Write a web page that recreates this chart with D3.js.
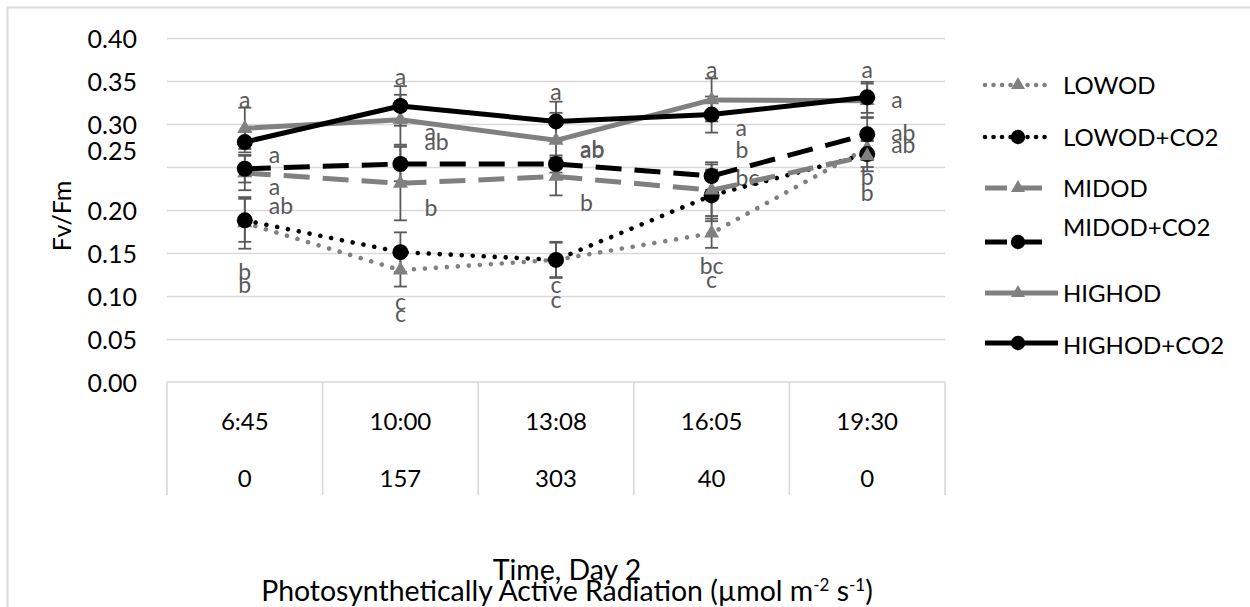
<!DOCTYPE html>
<html><head><meta charset="utf-8">
<script src="https://cdn.jsdelivr.net/npm/d3@7"></script>
<style>
body{margin:0;background:#fff}
svg{display:block}
text{font-family:Lato,"Open Sans",sans-serif}
</style>
</head><body>
<svg id="c" width="1250" height="607"></svg>
<script>
// ---------- data ----------
const categories = ["6:45","10:00","13:08","16:05","19:30"];
const parLabels  = ["0","157","303","40","0"];
const seriesNames = ["LOWOD","LOWOD+CO2","MIDOD","MIDOD+CO2","HIGHOD","HIGHOD+CO2"];
const lowod      = [0.185,0.130,0.142,0.173,0.272];
const lowodCO2   = [0.188,0.151,0.142,0.217,0.265];
const midod      = [0.243,0.231,0.239,0.223,0.263];
const midodCO2   = [0.248,0.2535,0.2535,0.2395,0.288];
const highod     = [0.295,0.305,0.281,0.328,0.327];
const highodCO2  = [0.279,0.321,0.303,0.311,0.331];
const lowodErr     = [0.030,0.019,0.020,0.017,0.014];
const lowodCO2Err  = [0.025,0.023,0.021,0.030,0.015];
const midodErr     = [0.020,0.043,0.022,0.030,0.018];
const midodCO2Err  = [0.016,0.020,0.010,0.016,0.020];
const highodErr    = [0.024,0.029,0.032,0.025,0.020];
const highodCO2Err = [0.012,0.023,0.023,0.021,0.018];
const yTicks = [0,0.05,0.10,0.15,0.20,0.25,0.30,0.35,0.40];
// significance letters
const letterCats  = ["6:45","6:45","6:45","6:45","6:45","6:45",
                     "10:00","10:00","10:00","10:00","10:00","10:00",
                     "13:08","13:08","13:08","13:08","13:08","13:08",
                     "16:05","16:05","16:05","16:05","16:05","16:05",
                     "19:30","19:30","19:30","19:30","19:30","19:30"];
const letterVals  = [0.328,0.264,0.2267,0.2047,0.128,0.113,
                     0.3547,0.2907,0.279,0.2023,0.093,0.079,
                     0.3372,0.2698,0.2710,0.208,0.1128,0.0953,
                     0.3628,0.2953,0.2698,0.2372,0.1349,0.1186,
                     0.3628,0.328,0.2895,0.2756,0.2384,0.2198];
const letterTexts = ["a","a","a","ab","b","b",
                     "a","a","ab","b","c","c",
                     "a","ab","ab","b","c","c",
                     "a","a","b","bc","bc","c",
                     "a","a","ab","ab","b","b"];
const letterSide  = [0,1,1,1,0,0, 0,1,1,1,0,0, 0,1,1,1,0,0, 0,1,1,1,0,0, 0,1,1,1,0,0];

// ---------- styles ----------
const GRAY = "#808080", BLACK = "#000000", EBAR = "#595959", GRID = "#d9d9d9", LBL = "#595959";
const seriesVals = [lowod,lowodCO2,midod,midodCO2,highod,highodCO2];
const seriesErr  = [lowodErr,lowodCO2Err,midodErr,midodCO2Err,highodErr,highodCO2Err];
const styles = [
  {color:GRAY, dash:"0.01 11", cap:"round", marker:"tri"},
  {color:BLACK,dash:"0.01 11", cap:"round", marker:"circ"},
  {color:GRAY, dash:"26 13",   cap:"butt",  marker:"tri"},
  {color:BLACK,dash:"26 13",   cap:"butt",  marker:"circ"},
  {color:GRAY, dash:null,      cap:"butt",  marker:"tri"},
  {color:BLACK,dash:null,      cap:"butt",  marker:"circ"}
];

const svg = d3.select("#c");
const L = 167, R = 945, T = 38, B = 382;
const x = d3.scaleBand().domain(categories).range([L,R]).padding(0);
const cx = c => x(c) + x.bandwidth()/2;
const y = d3.scaleLinear().domain([0,0.40]).range([B,T]);

function fitFont(sel, target){
  sel.style("font-size","100px");
  const w = sel.node().getComputedTextLength();
  sel.style("font-size", (100*target/w).toFixed(2)+"px");
}

// outer border
svg.append("rect").attr("x",7.5).attr("y",7.5).attr("width",1260).attr("height",620)
  .attr("fill","none").attr("stroke",GRID).attr("stroke-width",2);

// gridlines
svg.append("g").attr("transform",`translate(${L},0)`)
  .call(d3.axisLeft(y).tickValues(yTicks.filter(v=>v>0)).tickSize(-(R-L)).tickFormat(""))
  .call(g=>g.select(".domain").remove())
  .call(g=>g.selectAll("line").attr("stroke",GRID).attr("stroke-width",1.6));

// y tick labels
const yAx = svg.append("g").attr("transform",`translate(137,0)`)
  .call(d3.axisLeft(y).tickValues(yTicks).tickSize(0).tickPadding(0).tickFormat(d3.format(".2f")));
yAx.select(".domain").remove();
yAx.selectAll("text").attr("fill","#000").style("font-family","Lato").style("font-size","25px")
  .attr("dy", d => Math.abs(d-0.25)<1e-9 ? "-0.32em" : "0.36em");

// category table
svg.append("line").attr("x1",L).attr("x2",R).attr("y1",B).attr("y2",B).attr("stroke",GRID).attr("stroke-width",1.6);
const bounds = categories.map(c=>x(c)).concat([R]);
svg.selectAll(".vsep").data(bounds).enter().append("line").attr("class","vsep")
  .attr("x1",d=>d).attr("x2",d=>d).attr("y1",B).attr("y2",495).attr("stroke",GRID).attr("stroke-width",1.6);
svg.selectAll(".tl").data(categories).enter().append("text").attr("class","tl")
  .attr("x",d=>cx(d)).attr("y",421).attr("dy","0.36em").attr("text-anchor","middle").attr("fill","#000")
  .style("font-size","24px").text(d=>d);
svg.selectAll(".pl").data(parLabels).enter().append("text").attr("class","pl")
  .attr("x",(d,i)=>cx(categories[i])).attr("y",478).attr("dy","0.36em").attr("text-anchor","middle").attr("fill","#000")
  .style("font-size","24px").text(d=>d);

// axis titles
const t2 = svg.append("text").attr("x",567).attr("y",591).attr("dy","0.36em").attr("text-anchor","middle");
t2.append("tspan").text("Photosynthetically Active Radiation (µmol m");
t2.append("tspan").attr("baseline-shift","super").style("font-size","0.6em").text("-2");
t2.append("tspan").text(" s");
t2.append("tspan").attr("baseline-shift","super").style("font-size","0.6em").text("-1");
t2.append("tspan").text(")");
fitFont(t2,612);
const t1 = svg.append("text").attr("x",567).attr("y",570).attr("dy","0.36em").attr("text-anchor","middle")
  .style("font-size",t2.style("font-size")).text("Time, Day 2");
const yt = svg.append("text").attr("transform","translate(62,216) rotate(-90)").attr("text-anchor","middle").attr("dy","0.36em")
  .style("font-size","25px").text("Fv/Fm");

// error bars
const eg = svg.append("g");
seriesVals.forEach((vals,si)=>{
  vals.forEach((v,i)=>{
    const e = seriesErr[si][i], xc = cx(categories[i]);
    eg.append("line").attr("x1",xc).attr("x2",xc).attr("y1",y(v+e)).attr("y2",y(v-e)).attr("stroke",EBAR).attr("stroke-width",1.8);
    [v+e,v-e].forEach(w=>eg.append("line").attr("x1",xc-6.5).attr("x2",xc+6.5).attr("y1",y(w)).attr("y2",y(w)).attr("stroke",EBAR).attr("stroke-width",1.8));
  });
});

// letters
const lg = svg.append("g");
letterTexts.forEach((t,i)=>{
  lg.append("text").attr("x",cx(letterCats[i]) + (letterSide[i]? 24:0)).attr("y",y(letterVals[i]))
    .attr("dy","0.36em").attr("text-anchor",letterSide[i]?"start":"middle").attr("fill",LBL)
    .style("font-size","23px").text(t);
});

// series
const triPath = s => { const h = s*Math.sqrt(3)/2; return `M0,${-h*2/3}L${s/2},${h/3}L${-s/2},${h/3}Z`; };
function marker(g, st, px, py, big){
  if(st.marker==="circ") g.append("circle").attr("cx",px).attr("cy",py).attr("r",big?8:7.2).attr("fill",st.color);
  else g.append("path").attr("d",triPath(big?15:14)).attr("transform",`translate(${px},${py})`).attr("fill",st.color);
}
const line = d3.line().x((d,i)=>cx(categories[i])).y(d=>y(d));
seriesVals.forEach((vals,si)=>{
  const st = styles[si], g = svg.append("g");
  g.append("path").attr("d",line(vals)).attr("fill","none").attr("stroke",st.color)
    .attr("stroke-width",st.cap==="round"?4.6:5).attr("stroke-dasharray",st.dash).attr("stroke-linecap",st.cap).attr("stroke-linejoin","round");
  vals.forEach((v,i)=>marker(g,st,cx(categories[i]),y(v),true));
});

// legend
const legY = [85,137,188,242,293,343];
const legTY = [85,137,188,227,293,345];
const legEnd = [1052,1052,1052,1052,1058,1058];
const leg = svg.append("g");
seriesNames.forEach((n,i)=>{
  const st = styles[i];
  leg.append("line").attr("x1",985).attr("x2",legEnd[i]).attr("y1",legY[i]).attr("y2",legY[i])
    .attr("stroke",st.color).attr("stroke-width",st.cap==="round"?4.6:5)
    .attr("stroke-dasharray", st.dash ? (st.cap==="round"?"0.01 8.5":"22 13") : null).attr("stroke-linecap",st.cap);
  marker(leg,st,1018,legY[i],false);
  leg.append("text").attr("x",1063).attr("y",legTY[i]).attr("dy","0.36em").attr("fill","#000")
    .style("font-size","24px").text(n);
});
</script>
</body></html>
